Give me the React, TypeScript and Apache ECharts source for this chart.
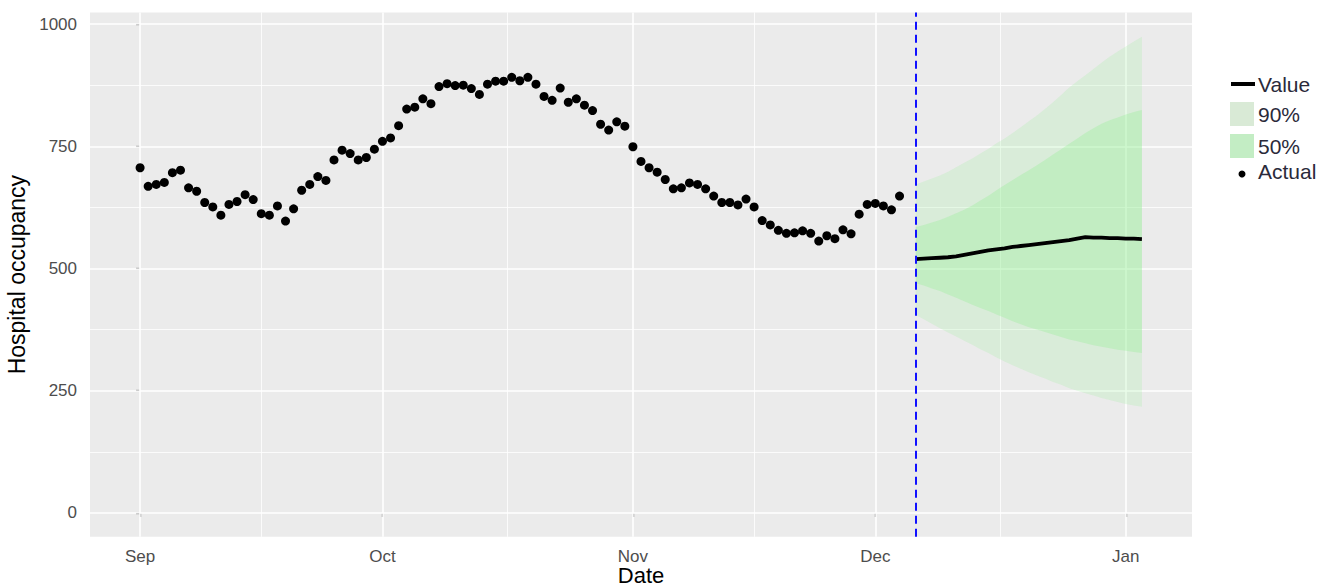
import React, { useEffect, useRef } from 'react';
import * as echarts from 'echarts';

// Day numbers are counted from 1 September (day 0).
const actualStartDay = 0;
const actual = [
  706, 668, 672, 676, 696, 701, 665, 658, 635, 626,
  609, 631, 637, 651, 641, 612, 609, 628, 597, 622,
  660, 672, 688, 680, 722, 742, 735, 722, 727, 744,
  760, 767, 792, 826, 830, 847, 837, 872, 878, 874,
  875, 868, 856, 877, 883, 883, 891, 884, 891, 877,
  852, 844, 869, 840, 847, 834, 823, 795, 783, 800,
  791, 749, 719, 706, 697, 682, 663, 665, 675, 672,
  663, 648, 635, 635, 630, 642, 626, 598, 589, 578,
  572, 573, 577, 572, 556, 567, 561, 579, 571, 611,
  631, 633, 628, 620, 648,
];

const forecastStartDay = 96; // 6 December
const forecastValue = [
  519, 520, 521, 522, 523, 525, 528, 531, 534, 537,
  539, 541, 544, 546, 548, 550, 552, 554, 556, 558,
  561, 564, 563, 563, 562, 562, 561, 561, 560,
];
const upper90 = [
  672, 678, 684, 690, 698, 707, 716, 725, 735, 745,
  756, 766, 777, 789, 801, 813, 826, 840, 855, 870,
  883, 895, 908, 921, 933, 944, 954, 964, 974,
];
const lower90 = [
  405, 396, 387, 378, 369, 361, 352, 344, 335, 327,
  318, 310, 302, 295, 288, 281, 275, 268, 262, 255,
  250, 245, 240, 235, 231, 227, 223, 220, 217,
];
const upper50 = [
  585, 589, 594, 599, 606, 613, 620, 629, 639, 649,
  660, 671, 681, 691, 701, 711, 722, 733, 744, 755,
  766, 777, 787, 796, 803, 809, 815, 820, 824,
];
const lower50 = [
  470, 465, 459, 454, 447, 440, 433, 426, 419, 413,
  406, 399, 392, 386, 380, 375, 370, 365, 360, 355,
  351, 347, 343, 340, 337, 334, 332, 329, 327,
];

const cutoffDay = 96;
const xMajor = [0, 30, 61, 91, 122];
const xLabels = ['Sep', 'Oct', 'Nov', 'Dec', 'Jan'];
const xMinor = [15, 45.5, 76, 106.5];
const yMajor = [0, 250, 500, 750, 1000];
const yMinor = [125, 375, 625, 875];
const legendItems = ['Value', '90%', '50%', 'Actual'];

const FONT = '"Liberation Sans", Arial, Helvetica, sans-serif';

function bandSeries(name: string, lo: number[], hi: number[], color: string) {
  const rows = lo.map((v, i) => [forecastStartDay + i, v, hi[i]]);
  return {
    name,
    type: 'custom',
    silent: true,
    data: rows,
    encode: { x: 0, y: [1, 2] },
    renderItem: (params: any, api: any) => {
      if (params.dataIndex !== 0) return null;
      const top = rows.map((r) => api.coord([r[0], r[2]]));
      const bottom = rows.map((r) => api.coord([r[0], r[1]])).reverse();
      return {
        type: 'polygon',
        shape: { points: top.concat(bottom) },
        style: { fill: color, stroke: 'none' },
      };
    },
  };
}

export default function App() {
  const ref = useRef<HTMLDivElement>(null);

  useEffect(() => {
    if (!ref.current) return;
    const chart = echarts.init(ref.current, null, { renderer: 'svg' });

    const valueData = forecastValue.map((v, i) => [forecastStartDay + i, v]);
    const actualData = actual.map((v, i) => [actualStartDay + i, v]);

    const gridLines = [
      ...xMajor.map((x) => ({ xAxis: x, lineStyle: { width: 1.6 } })),
      ...xMinor.map((x) => ({ xAxis: x, lineStyle: { width: 0.8 } })),
      ...yMajor.map((y) => ({ yAxis: y, lineStyle: { width: 1.6 } })),
      ...yMinor.map((y) => ({ yAxis: y, lineStyle: { width: 0.8 } })),
    ];

    const legendTop = [84, 114, 146, 171];

    chart.setOption({
      animation: false,
      textStyle: { fontFamily: FONT },
      grid: {
        left: 90,
        top: 12.4,
        width: 1102,
        height: 524.4,
        show: true,
        backgroundColor: '#EBEBEB',
        borderWidth: 0,
        containLabel: false,
        outerBoundsMode: 'none',
      },
      xAxis: {
        type: 'value',
        min: -6.2,
        max: 130.2,
        splitLine: { show: false },
        axisLine: { show: false },
        axisTick: {
          show: true,
          customValues: xMajor,
          length: 4,
          lineStyle: { color: '#333333', width: 1.2 },
        },
        axisLabel: {
          customValues: xMajor,
          formatter: (v: number) => xLabels[xMajor.indexOf(v)] ?? '',
          color: '#4D4D4D',
          fontSize: 17,
          margin: 11,
        },
        name: 'Date',
        nameLocation: 'middle',
        nameMoveOverlap: false,
        nameGap: 28,
        nameTextStyle: { color: '#000000', fontSize: 22, verticalAlign: 'top', lineHeight: 22 },
      },
      yAxis: {
        type: 'value',
        min: -48.75,
        max: 1023.75,
        splitLine: { show: false },
        axisLine: { show: false },
        axisTick: {
          show: true,
          customValues: yMajor,
          length: 4,
          lineStyle: { color: '#333333', width: 1.2 },
        },
        axisLabel: {
          customValues: yMajor,
          formatter: (v: number) => String(v),
          color: '#4D4D4D',
          fontSize: 17,
          margin: 13,
        },
        name: 'Hospital occupancy',
        nameLocation: 'middle',
        nameGap: 57,
        nameTextStyle: { color: '#000000', fontSize: 23 },
      },
      series: [
        {
          name: 'grid',
          type: 'line',
          data: [],
          symbol: 'none',
          silent: true,
          markLine: {
            z: 1,
            silent: true,
            symbol: ['none', 'none'],
            label: { show: false },
            lineStyle: { color: '#FFFFFF', type: 'solid' },
            data: gridLines,
          },
        },
        bandSeries('90%', lower90, upper90, 'rgba(144,238,144,0.2)'),
        bandSeries('50%', lower50, upper50, 'rgba(144,238,144,0.3)'),
        {
          name: 'Value',
          type: 'line',
          data: valueData,
          symbol: 'none',
          lineStyle: { color: '#000000', width: 3.8 },
          markLine: {
            silent: true,
            symbol: ['none', 'none'],
            label: { show: false },
            lineStyle: { color: '#1010FF', type: [8, 5], width: 2 },
            data: [{ xAxis: cutoffDay }],
          },
        },
        {
          name: 'Actual',
          type: 'scatter',
          data: actualData,
          symbol: 'circle',
          symbolSize: 9,
          itemStyle: { color: '#000000', opacity: 1 },
        },
      ],
      graphic: [
        { type: 'line', shape: { x1: 1231, y1: 84, x2: 1255, y2: 84 }, style: { stroke: '#000', lineWidth: 4 } },
        { type: 'rect', shape: { x: 1230, y: 102, width: 24, height: 24 }, style: { fill: '#D9EAD6' } },
        { type: 'rect', shape: { x: 1230, y: 134, width: 24, height: 24 }, style: { fill: '#C3EDC4' } },
        { type: 'circle', shape: { cx: 1242, cy: 174, r: 3.5 }, style: { fill: '#000' } },
        ...legendItems.map((t, i) => ({
          type: 'text',
          x: 1258,
          y: legendTop[i],
          style: {
            text: t,
            fill: '#2A2A3A',
            fontSize: 21,
            fontFamily: FONT,
            verticalAlign: 'middle',
            align: 'left',
          },
        })),
      ],
    });

    return () => chart.dispose();
  }, []);

  return (
    <div
      ref={ref}
      style={{ position: 'absolute', left: 0, top: 0, width: 1333, height: 588 }}
    />
  );
}
